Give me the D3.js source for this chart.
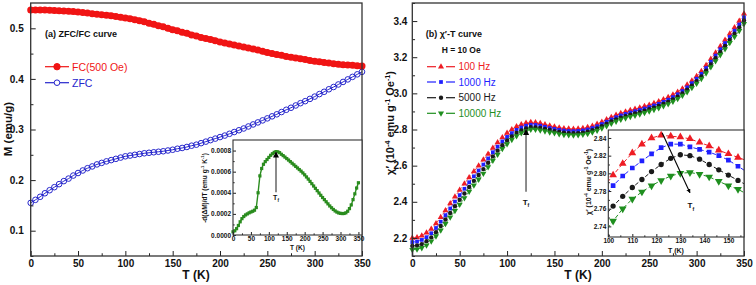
<!DOCTYPE html>
<html lang="en">
<head>
<meta charset="utf-8">
<title>ZFC/FC curve and chi'-T curve</title>
<script src="https://d3js.org/d3.v7.min.js"></script>
<style>
  body { margin: 0; background: #fff; }
  svg { font-family: "Liberation Sans", Arial, sans-serif; }
</style>
</head>
<body>
<svg id="chart" width="756" height="285"></svg>
<script>
// temperature grid (K) shared by the main-panel curves
const temps = [0,5,10,15,20,25,30,35,40,45,50,55,60,65,70,75,80,85,90,95,
  100,105,110,115,120,125,130,135,140,145,150,155,160,165,170,175,180,185,190,195,
  200,205,210,215,220,225,230,235,240,245,250,255,260,265,270,275,280,285,290,295,
  300,305,310,315,320,325,330,335,340,345,350];

// (a) magnetisation, emu/g
const fcM = [0.536,0.536,0.536,0.536,0.5355,0.535,0.5345,0.534,0.5335,0.533,
  0.532,0.531,0.530,0.529,0.528,0.527,0.526,0.525,0.5235,0.522,
  0.5205,0.519,0.517,0.515,0.513,0.510,0.508,0.505,0.503,0.500,
  0.497,0.495,0.492,0.490,0.487,0.485,0.482,0.480,0.478,0.4755,
  0.473,0.471,0.469,0.467,0.465,0.463,0.461,0.459,0.457,0.4545,
  0.452,0.450,0.448,0.4465,0.4445,0.443,0.4415,0.440,0.4385,0.4365,
  0.435,0.434,0.4325,0.4315,0.430,0.429,0.428,0.4275,0.427,0.426,0.4255];
const zfcM = [0.155,0.161,0.167,0.174,0.180,0.186,0.192,0.198,0.203,0.209,
  0.214,0.219,0.2235,0.227,0.231,0.234,0.237,0.2395,0.242,0.2445,
  0.247,0.2485,0.250,0.2515,0.253,0.254,0.255,0.256,0.257,0.2585,
  0.260,0.262,0.2635,0.2655,0.268,0.270,0.273,0.276,0.279,0.282,
  0.285,0.288,0.2915,0.295,0.2985,0.302,0.306,0.310,0.314,0.318,
  0.322,0.326,0.330,0.3345,0.339,0.343,0.3475,0.352,0.356,0.3605,
  0.365,0.370,0.3745,0.3795,0.384,0.389,0.394,0.399,0.404,0.409,0.414];
// (a) inset: -d(dM)/dT
const dMdT = [0.000030,0.000040,0.000060,0.000090,0.000125,0.000155,0.000175,0.000190,0.000200,0.000210,
  0.000218,0.000225,0.000235,0.000260,0.000400,0.000560,0.000630,0.000670,0.000695,0.000715,
  0.000735,0.000755,0.000770,0.000783,0.000790,0.000788,0.000780,0.000765,0.000752,0.000738,
  0.000724,0.000710,0.000695,0.000680,0.000665,0.000650,0.000635,0.000620,0.000605,0.000588,
  0.000570,0.000550,0.000530,0.000508,0.000486,0.000464,0.000442,0.000420,0.000398,0.000376,
  0.000355,0.000335,0.000315,0.000295,0.000275,0.000258,0.000242,0.000228,0.000217,0.000209,
  0.000205,0.000203,0.000204,0.000210,0.000225,0.000250,0.000285,0.000335,0.000390,0.000445,0.000495];

// (b) chi' (10^-4 emu g^-1 Oe^-1) per frequency
const chi100 = [2.200,2.203,2.212,2.228,2.250,2.280,2.315,2.352,2.390,2.428,
  2.465,2.500,2.535,2.568,2.600,2.632,2.665,2.698,2.728,2.756,
  2.780,2.800,2.816,2.828,2.836,2.840,2.839,2.834,2.828,2.821,
  2.815,2.810,2.806,2.804,2.803,2.804,2.807,2.812,2.820,2.830,
  2.842,2.855,2.868,2.880,2.890,2.898,2.906,2.913,2.920,2.928,
  2.936,2.945,2.955,2.966,2.978,2.992,3.008,3.026,3.047,3.070,
  3.095,3.122,3.155,3.190,3.225,3.260,3.295,3.330,3.365,3.400,3.440];
const chi1000 = [2.177,2.180,2.189,2.204,2.226,2.255,2.290,2.326,2.363,2.401,
  2.437,2.472,2.508,2.541,2.573,2.606,2.640,2.674,2.705,2.734,
  2.759,2.780,2.798,2.811,2.821,2.826,2.825,2.821,2.815,2.808,
  2.803,2.798,2.794,2.792,2.791,2.792,2.795,2.800,2.808,2.818,
  2.830,2.843,2.856,2.868,2.878,2.886,2.894,2.901,2.908,2.916,
  2.924,2.933,2.942,2.953,2.965,2.979,2.995,3.013,3.033,3.056,
  3.081,3.108,3.140,3.175,3.209,3.244,3.278,3.312,3.347,3.381,3.421];
const chi5000 = [2.156,2.158,2.166,2.182,2.203,2.232,2.266,2.302,2.338,2.375,
  2.411,2.446,2.482,2.516,2.548,2.581,2.616,2.651,2.683,2.713,
  2.739,2.762,2.781,2.795,2.806,2.813,2.812,2.808,2.803,2.797,
  2.791,2.786,2.782,2.780,2.779,2.780,2.783,2.788,2.796,2.806,
  2.818,2.831,2.844,2.856,2.866,2.874,2.882,2.889,2.896,2.904,
  2.912,2.921,2.931,2.942,2.953,2.967,2.982,3.000,3.020,3.043,
  3.068,3.094,3.126,3.160,3.194,3.228,3.262,3.296,3.330,3.364,3.403];
const chi10000 = [2.135,2.137,2.145,2.160,2.181,2.210,2.243,2.278,2.314,2.350,
  2.385,2.421,2.457,2.491,2.524,2.557,2.593,2.629,2.662,2.693,
  2.720,2.744,2.764,2.780,2.792,2.800,2.800,2.796,2.791,2.785,
  2.780,2.775,2.771,2.769,2.768,2.769,2.772,2.777,2.785,2.795,
  2.807,2.820,2.833,2.845,2.855,2.863,2.871,2.878,2.885,2.893,
  2.901,2.910,2.919,2.930,2.941,2.955,2.970,2.988,3.008,3.031,
  3.055,3.081,3.112,3.146,3.179,3.213,3.246,3.280,3.313,3.347,3.385];

// (b) inset, zoom near the freezing peak
const insetT = [98,102,106,110,114,118,122,126,130,134,138,142,146,150,154,158];
const ins100 = [2.784,2.798,2.811,2.823,2.833,2.840,2.843,2.842,2.841,2.839,2.835,2.831,2.826,2.822,2.818,2.814];
const ins1000 = [2.772,2.786,2.797,2.806,2.814,2.822,2.829,2.833,2.833,2.830,2.827,2.824,2.820,2.815,2.808,2.801];
const ins5000 = [2.750,2.763,2.774,2.784,2.793,2.802,2.810,2.817,2.821,2.820,2.816,2.810,2.804,2.798,2.792,2.786];
const ins10000 = [2.732,2.746,2.760,2.771,2.779,2.786,2.792,2.797,2.800,2.801,2.799,2.796,2.791,2.786,2.782,2.776];

const freqLabels = ["100 Hz", "1000 Hz", "5000 Hz", "10000 Hz"];
const magLabels = ["FC(500 Oe)", "ZFC"];

// ticks
const tTicks = [0,50,100,150,200,250,300,350];
const tMinor = [25,75,125,175,225,275,325];
const mTicks = [0.1,0.2,0.3,0.4,0.5];
const mMinor = [0.05,0.15,0.25,0.35,0.45];
const chiTicks = [2.2,2.4,2.6,2.8,3.0,3.2,3.4];
const chiMinor = [2.1,2.3,2.5,2.7,2.9,3.1,3.3,3.5];
const dTicks = [0,0.0002,0.0004,0.0006,0.0008];
const dMinor = [0.0001,0.0003,0.0005,0.0007];
const insTTicks = [100,110,120,130,140,150];
const insTMinor = [105,115,125,135,145,155];
const insChiTicks = [2.74,2.76,2.78,2.80,2.82,2.84];
const insChiMinor = [2.73,2.75,2.77,2.79,2.81,2.83];

const svg = d3.select("#chart");
const RED = "#f01414", BLUE = "#2626cc", GREEN = "#2a8c1e";
const freqColors = ["#ee1c24", "#1f1fff", "#1a1a1a", "#1f8f1f"];

svg.append("defs").append("marker")
  .attr("id", "head").attr("viewBox", "0 0 10 10").attr("refX", 9).attr("refY", 5)
  .attr("markerWidth", 4).attr("markerHeight", 4).attr("orient", "auto")
  .append("path").attr("d", "M0,0L10,5L0,10z").attr("fill", "#000");

function drawAxes(x, y, c) {
  const [x0, x1] = x.range(), [y0, y1] = y.range();
  const g = svg.append("g");
  g.append("g").attr("transform", `translate(0,${y0})`)
    .call(d3.axisBottom(x).tickValues(c.xt).tickFormat(c.xf).tickSizeInner(-c.tick).tickSizeOuter(0).tickPadding(c.xpad));
  g.append("g").attr("transform", `translate(0,${y0})`)
    .call(d3.axisBottom(x).tickValues(c.xm).tickFormat("").tickSizeInner(-c.tick * 0.55).tickSizeOuter(0));
  g.append("g").attr("transform", `translate(${x0},0)`)
    .call(d3.axisLeft(y).tickValues(c.yt).tickFormat(c.yf).tickSizeInner(-c.tick).tickSizeOuter(0).tickPadding(c.ypad));
  g.append("g").attr("transform", `translate(${x0},0)`)
    .call(d3.axisLeft(y).tickValues(c.ym).tickFormat("").tickSizeInner(-c.tick * 0.55).tickSizeOuter(0));
  g.selectAll(".domain").remove();
  g.selectAll(".tick line").attr("stroke", "#222");
  g.selectAll(".tick text").attr("font-size", c.fs).attr("font-weight", "bold")
    .attr("fill", "#111").attr("font-family", "'Liberation Sans', Arial, sans-serif");
  g.append("rect").attr("x", x0).attr("y", y1).attr("width", x1 - x0).attr("height", y0 - y1)
    .attr("fill", "none").attr("stroke", "#333").attr("stroke-width", c.sw);
}

// text with super/subscripts: parts = [[text, "sup"|"sub"|null], ...]
function rich(sel, parts, size) {
  let shift = 0;
  parts.forEach(([t, k]) => {
    const target = k === "sup" ? -size * 0.4 : k === "sub" ? size * 0.3 : 0;
    sel.append("tspan").attr("dy", target - shift).attr("font-size", k ? size * 0.65 : size).text(t);
    shift = target;
  });
  return sel;
}

function label(x, y, size, parts, opts = {}) {
  const t = svg.append("text")
    .attr("text-anchor", opts.anchor || "middle")
    .attr("font-weight", opts.weight || "bold")
    .attr("fill", opts.fill || "#111")
    .attr("font-size", size);
  if (opts.rotate) t.attr("transform", `translate(${x},${y}) rotate(-90)`);
  else t.attr("x", x).attr("y", y);
  return rich(t, parts, size);
}

const sym = (type, size, rot) => (g) => g.append("path")
  .attr("d", d3.symbol().type(type).size(size)())
  .attr("transform", rot ? "rotate(180)" : null);

/* ---------------- panel (a) ---------------- */
const xA = d3.scaleLinear().domain([0, 350]).range([30.7, 362]);
const yA = d3.scaleLinear().domain([0.05, 0.55]).range([256, 3]);

svg.append("path").datum(temps)
  .attr("d", d3.line().x((d) => xA(d)).y((d, i) => yA(zfcM[i])))
  .attr("fill", "none").attr("stroke", BLUE).attr("stroke-width", 1);
svg.append("g").selectAll("circle").data(temps).join("circle")
  .attr("cx", (d) => xA(d)).attr("cy", (d, i) => yA(zfcM[i])).attr("r", 2.8)
  .attr("fill", "none").attr("stroke", BLUE).attr("stroke-width", 1);
svg.append("path").datum(temps)
  .attr("d", d3.line().curve(d3.curveMonotoneX).x((d) => xA(d)).y((d, i) => yA(fcM[i])))
  .attr("fill", "none").attr("stroke", RED).attr("stroke-width", 5.5);
svg.append("g").selectAll("circle").data(temps).join("circle")
  .attr("cx", (d) => xA(d)).attr("cy", (d, i) => yA(fcM[i])).attr("r", 3.5)
  .attr("fill", RED);

drawAxes(xA, yA, { xt: tTicks, xm: tMinor, yt: mTicks, ym: mMinor, xf: d3.format("d"), yf: d3.format(".1f"),
  tick: 5, xpad: 4, ypad: 7, fs: 10, sw: 1.3 });

label(45, 37, 9, [["(a) ZFC/FC curve"]], { anchor: "start" });
[[66.7, RED, true], [82.7, BLUE, false]].forEach(([ly, col, filled], i) => {
  svg.append("line").attr("x1", 45).attr("x2", 69).attr("y1", ly).attr("y2", ly)
    .attr("stroke", col).attr("stroke-width", 1.2);
  svg.append("circle").attr("cx", 57).attr("cy", ly).attr("r", filled ? 3.2 : 2.8)
    .attr("fill", filled ? col : "#fff").attr("stroke", col).attr("stroke-width", 1);
  label(72, ly + 3.8, 10.5, [[magLabels[i]]], { anchor: "start", weight: "normal", fill: col });
});
label(12, 129, 11.5, [["M (emu/g)"]], { rotate: true });
label(196, 279, 12, [["T (K)"]]);

// inset (a)
const xAi = d3.scaleLinear().domain([0, 360]).range([233, 362]);
const yAi = d3.scaleLinear().domain([0, 0.0009]).range([235, 140]);
svg.append("rect").attr("x", 233).attr("y", 140).attr("width", 129).attr("height", 95).attr("fill", "#fff");
svg.append("path").datum(temps)
  .attr("d", d3.line().x((d) => xAi(d)).y((d, i) => yAi(dMdT[i])))
  .attr("fill", "none").attr("stroke", GREEN).attr("stroke-width", 1.4);
svg.append("g").selectAll("rect").data(temps).join("rect")
  .attr("x", (d) => xAi(d) - 1.6).attr("y", (d, i) => yAi(dMdT[i]) - 1.6)
  .attr("width", 3.2).attr("height", 3.2).attr("fill", GREEN);
drawAxes(xAi, yAi, { xt: tTicks, xm: tMinor, yt: dTicks, ym: dMinor, xf: d3.format("d"), yf: d3.format(".4f"),
  tick: 3, xpad: 1.5, ypad: 2, fs: 6.5, sw: 1.1 });
svg.append("line").attr("x1", xAi(120)).attr("x2", xAi(120)).attr("y1", yAi(0.000406)).attr("y2", yAi(0.000785))
  .attr("stroke", "#666").attr("stroke-width", 1.5).attr("marker-end", "url(#head)");
label(xAi(120), yAi(0.00036) + 3, 7, [["T"], ["f", "sub"]]);
label(297.5, 250, 6.5, [["T (K)"]]);
label(207, 188, 6.5, [["-d(ΔM)/dT (emu g"], ["-1", "sup"], [" K"], ["-1", "sup"], [")"]], { rotate: true });

/* ---------------- panel (b) ---------------- */
const xB = d3.scaleLinear().domain([0, 350]).range([412.3, 744]);
const yB = d3.scaleLinear().domain([2.1, 3.5]).range([256, 3]);
const chiSeries = [chi100, chi1000, chi5000, chi10000];
const insSeries = [ins100, ins1000, ins5000, ins10000];
const mainSyms = [sym(d3.symbolTriangle, 16), sym(d3.symbolSquare, 14), sym(d3.symbolCircle, 15), sym(d3.symbolTriangle, 16, true)];
const insSyms = [sym(d3.symbolTriangle, 26), sym(d3.symbolSquare, 22), sym(d3.symbolCircle, 22), sym(d3.symbolTriangle, 26, true)];

chiSeries.forEach((vals, s) => {
  svg.append("path").datum(temps)
    .attr("d", d3.line().x((d) => xB(d)).y((d, i) => yB(vals[i])))
    .attr("fill", "none").attr("stroke", freqColors[s]).attr("stroke-width", 0.8).attr("stroke-dasharray", "3,2");
  svg.append("g").attr("fill", freqColors[s]).selectAll("g").data(temps).join("g")
    .attr("transform", (d, i) => `translate(${xB(d)},${yB(vals[i])})`)
    .each(function () { mainSyms[s](d3.select(this)); });
});

drawAxes(xB, yB, { xt: tTicks, xm: tMinor, yt: chiTicks, ym: chiMinor, xf: d3.format("d"), yf: d3.format(".1f"),
  tick: 5, xpad: 4, ypad: 5, fs: 10, sw: 1.3 });

label(425.7, 37, 9, [["(b) χ′-T curve"]], { anchor: "start" });
label(441.7, 53, 8.5, [["H = 10 Oe"]], { anchor: "start" });
[66.7, 82, 97.7, 113.3].forEach((ly, s) => {
  const col = freqColors[s];
  [[427, 436], [446, 455]].forEach(([a, b]) => svg.append("line")
    .attr("x1", a).attr("x2", b).attr("y1", ly).attr("y2", ly).attr("stroke", col).attr("stroke-width", 1.2));
  const g = svg.append("g").attr("fill", col).attr("transform", `translate(441,${ly})`);
  mainSyms[s](g);
  label(458.5, ly + 3.6, 10, [[freqLabels[s]]], { anchor: "start", weight: "normal", fill: col });
});
label(394, 123, 11, [["χ′ (10"], ["-4", "sup"], [" emu g"], ["-1", "sup"], [" Oe"], ["-1", "sup"], [")"]], { rotate: true });
label(578, 279, 12, [["T (K)"]]);
svg.append("line").attr("x1", xB(120)).attr("x2", xB(120)).attr("y1", yB(2.455)).attr("y2", yB(2.80))
  .attr("stroke", "#666").attr("stroke-width", 1.5).attr("marker-end", "url(#head)");
label(xB(120), yB(2.40) + 3, 8, [["T"], ["f", "sub"]]);

// inset (b)
const xBi = d3.scaleLinear().domain([100, 156.5]).range([608.3, 744]);
const yBi = d3.scaleLinear().domain([2.728, 2.849]).range([237, 130]);
svg.append("rect").attr("x", 608.3).attr("y", 130).attr("width", 135.7).attr("height", 107).attr("fill", "#fff");
svg.append("clipPath").attr("id", "insClip").append("rect")
  .attr("x", 608.3).attr("y", 130).attr("width", 135.7).attr("height", 107);
const insG = svg.append("g").attr("clip-path", "url(#insClip)");
insSeries.forEach((vals, s) => {
  insG.append("path").datum(insetT)
    .attr("d", d3.line().x((d) => xBi(d)).y((d, i) => yBi(vals[i])))
    .attr("fill", "none").attr("stroke", freqColors[s]).attr("stroke-width", 1).attr("stroke-dasharray", "4,2.5");
  insG.append("g").attr("fill", freqColors[s]).selectAll("g").data(insetT).join("g")
    .attr("transform", (d, i) => `translate(${xBi(d)},${yBi(vals[i])})`)
    .each(function () { insSyms[s](d3.select(this)); });
});
drawAxes(xBi, yBi, { xt: insTTicks, xm: insTMinor, yt: insChiTicks, ym: insChiMinor, xf: d3.format("d"), yf: d3.format(".2f"),
  tick: 3, xpad: 1.5, ypad: 2, fs: 6.5, sw: 1.1 });
svg.append("line").attr("x1", xBi(122.4)).attr("y1", yBi(2.846)).attr("x2", xBi(134)).attr("y2", yBi(2.778))
  .attr("stroke", "#000").attr("stroke-width", 1.1).attr("marker-end", "url(#head)");
label(xBi(134.4), yBi(2.764) + 3, 8, [["T"], ["f", "sub"]]);
label(676, 252.5, 7, [["T (K)"]]);
label(591, 182, 7, [["χ′ (10"], ["-4", "sup"], [" emu g"], ["-1", "sup"], [" Oe"], ["-1", "sup"], [")"]], { rotate: true });
</script>
</body>
</html>
